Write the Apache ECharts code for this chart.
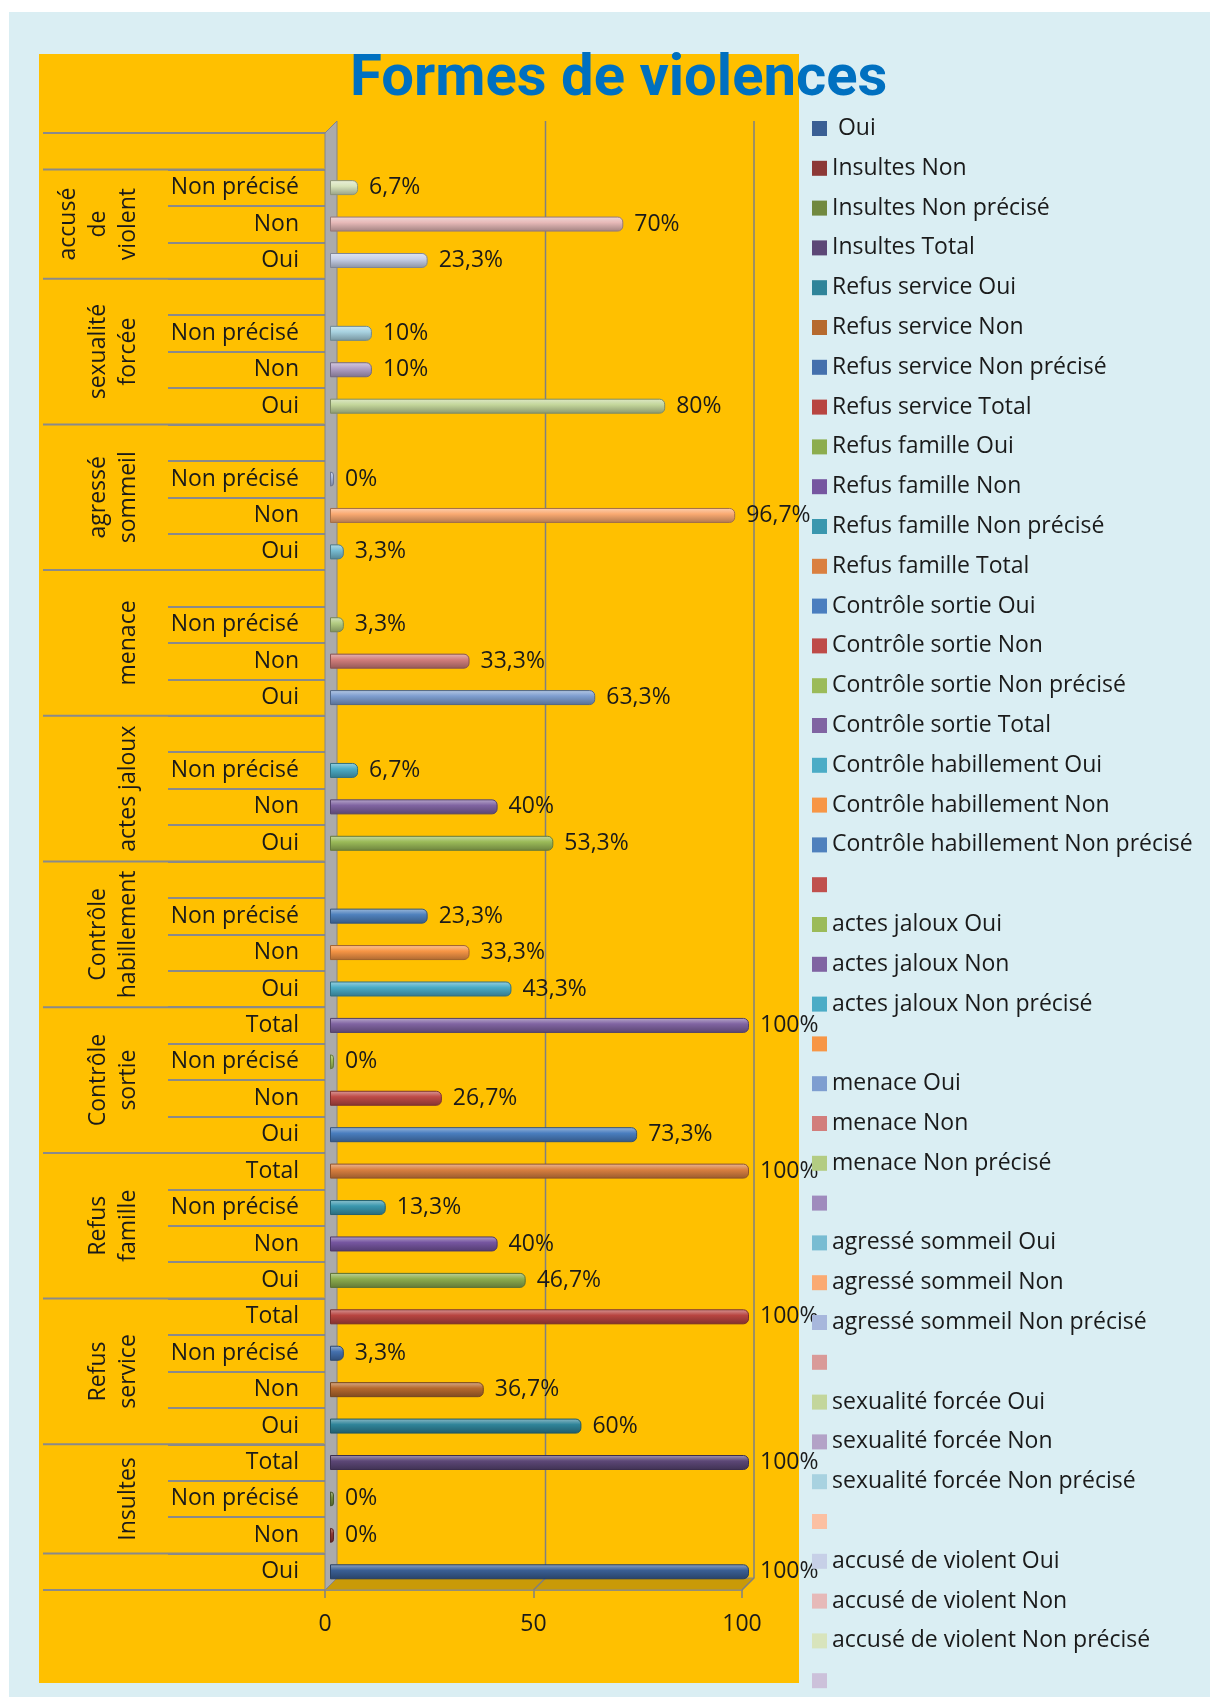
<!DOCTYPE html>
<html>
<head>
<meta charset="utf-8">
<title>Formes de violences</title>
<script src="https://cdn.jsdelivr.net/npm/echarts@6.0.0/dist/echarts.min.js"></script>
<style>
  html, body { margin: 0; padding: 0; background: #ffffff; }
  #page { position: relative; width: 1210px; height: 1697px; overflow: hidden; }
  #bgBlue { position: absolute; left: 9px; top: 12px; right: 0; bottom: 0; background: #DAEEF3; }
  #bgPlot { position: absolute; left: 39px; top: 54px; width: 760px; height: 1629px; background: #FFC000; }
  #chart { position: absolute; left: 0; top: 0; width: 1210px; height: 1697px; }
</style>
</head>
<body>
<div id="page">
  <div id="bgBlue"></div>
  <div id="bgPlot"></div>
  <div id="chart"></div>
</div>
<script>
// lignes de l'axe des catégories, de bas en haut
const subLabels = [
  'Oui',
  'Non', 'Non précisé', 'Total',
  'Oui', 'Non', 'Non précisé', 'Total',
  'Oui', 'Non', 'Non précisé', 'Total',
  'Oui', 'Non', 'Non précisé', 'Total',
  'Oui', 'Non', 'Non précisé', '',
  'Oui', 'Non', 'Non précisé', '',
  'Oui', 'Non', 'Non précisé', '',
  'Oui', 'Non', 'Non précisé', '',
  'Oui', 'Non', 'Non précisé', '',
  'Oui', 'Non', 'Non précisé',
  ''
];

// second niveau de l'axe (groupes), de bas en haut
const groupNames = ['', 'Insultes', 'Refus\nservice', 'Refus\nfamille', 'Contrôle\nsortie',
  'Contrôle\nhabillement', 'actes jaloux', 'menace', 'agressé\nsommeil', 'sexualité\nforcée',
  'accusé\nde\nviolent', ''];
const groupSizes = [1, 3, 4, 4, 4, 4, 4, 4, 4, 4, 3, 1];

// une série par ligne (comme dans le fichier Excel)
const seriesNames = [
  ' Oui', 'Insultes Non', 'Insultes Non précisé', 'Insultes Total',
  'Refus service Oui', 'Refus service Non', 'Refus service Non précisé', 'Refus service Total',
  'Refus famille Oui', 'Refus famille Non', 'Refus famille Non précisé', 'Refus famille Total',
  'Contrôle sortie Oui', 'Contrôle sortie Non', 'Contrôle sortie Non précisé', 'Contrôle sortie Total',
  'Contrôle habillement Oui', 'Contrôle habillement Non', 'Contrôle habillement Non précisé', ' ',
  'actes jaloux Oui', 'actes jaloux Non', 'actes jaloux Non précisé', '  ',
  'menace Oui', 'menace Non', 'menace Non précisé', '   ',
  'agressé sommeil Oui', 'agressé sommeil Non', 'agressé sommeil Non précisé', '    ',
  'sexualité forcée Oui', 'sexualité forcée Non', 'sexualité forcée Non précisé', '     ',
  'accusé de violent Oui', 'accusé de violent Non', 'accusé de violent Non précisé', '      '
];

// pourcentages
const values = [
  100, 0, 0, 100,
  60, 36.7, 3.3, 100,
  46.7, 40, 13.3, 100,
  73.3, 26.7, 0, 100,
  43.3, 33.3, 23.3, null,
  53.3, 40, 6.7, null,
  63.3, 33.3, 3.3, null,
  3.3, 96.7, 0, null,
  80, 10, 10, null,
  23.3, 70, 6.7, null
];

const colors = [
  '#3A5F94', '#8C3836', '#71893F', '#5C4776',
  '#2F8499', '#B66A2E', '#4470AD', '#B84541',
  '#8CAD4E', '#7656A0', '#3A97AE', '#DA8040',
  '#4A7EBF', '#BE4B48', '#9BBB59', '#8064A2',
  '#4BACC6', '#F79646', '#4F81BD', '#C0504D',
  '#9BBB59', '#8064A2', '#4BACC6', '#F79646',
  '#7E9ED0', '#D27E7C', '#B3CC82', '#9F8BBD',
  '#78BCD2', '#FAAA72', '#A7B7DC', '#D99A98',
  '#C3D69B', '#B3A2C7', '#A8D2E0', '#FBC0A2',
  '#C7D0E7', '#E6B9B8', '#D8E4BC', '#CCC1DA'
];

const valueTicks = [0, 50, 100];

const FONT = "'Open Sans', sans-serif";
const TXT = '#1a1a1a';
const LINE = '#8A8A8A';
const DX = 12, DY = -12; // profondeur 3D

function shade(hex, amt) {
  let r = parseInt(hex.slice(1, 3), 16), g = parseInt(hex.slice(3, 5), 16), b = parseInt(hex.slice(5, 7), 16);
  const t = amt < 0 ? 0 : 255, p = Math.abs(amt);
  r = Math.round(r + (t - r) * p); g = Math.round(g + (t - g) * p); b = Math.round(b + (t - b) * p);
  return 'rgb(' + r + ',' + g + ',' + b + ')';
}

// groupes : [0, début, fin]
let groupData = [];
let pos = 0;
groupSizes.forEach(function (n) {
  groupData.push([0, pos, pos + n - 1]);
  pos += n;
});

function renderGroup(params, api) {
  const start = api.value(1), end = api.value(2);
  const band = api.size([0, 1])[1];
  const pLow = api.coord([0, start]);
  const pHigh = api.coord([0, end]);
  const x0 = pLow[0];
  const yLow = pLow[1] + band / 2;
  const yHigh = pHigh[1] - band / 2;
  const children = [{
    type: 'line',
    shape: { x1: x0 - 287, y1: yLow, x2: x0 - 6, y2: yLow },
    style: { stroke: LINE, lineWidth: 2 }
  }];
  if (params.dataIndex === groupSizes.length - 1) {
    children.push({
      type: 'line',
      shape: { x1: x0 - 287, y1: yHigh, x2: x0 - 6, y2: yHigh },
      style: { stroke: LINE, lineWidth: 2 }
    });
  }
  const name = groupNames[params.dataIndex];
  if (name) {
    children.push({
      type: 'text',
      x: x0 - 187,
      y: (yLow + yHigh) / 2,
      rotation: Math.PI / 2,
      style: {
        text: name, fill: TXT, fontSize: 23, fontFamily: FONT,
        align: 'center', verticalAlign: 'bottom', lineHeight: 30
      }
    });
  }
  return { type: 'group', children: children };
}

function renderFrame(params, api) {
  const v = api.value(0);
  const b = api.coord([v, 0]);
  const t = api.coord([v, 1]);
  const children = [];
  if (params.dataIndex === 0) {
    const r = api.coord([valueTicks[valueTicks.length - 1], 0]);
    children.push({
      type: 'polygon',
      shape: { points: [[b[0], b[1]], [r[0], r[1]], [r[0] + DX, r[1] + DY], [b[0] + DX, b[1] + DY]] },
      style: { fill: '#C99A08', stroke: '#8C8C8C', lineWidth: 1 }
    });
    children.push({
      type: 'polygon',
      shape: { points: [[b[0], b[1]], [t[0], t[1]], [t[0] + DX, t[1] + DY], [b[0] + DX, b[1] + DY]] },
      style: { fill: '#ABABAB', stroke: '#858585', lineWidth: 1 }
    });
  } else {
    children.push({
      type: 'polyline',
      shape: { points: [[t[0] + DX, t[1] + DY], [b[0] + DX, b[1] + DY], [b[0], b[1]]] },
      style: { stroke: '#808080', lineWidth: 1.5, fill: null }
    });
  }
  return { type: 'group', children: children };
}

let series = seriesNames.map(function (name, i) {
  const c = colors[i];
  return {
    name: name,
    type: 'bar',
    stack: 'total',
    xAxisIndex: 0,
    yAxisIndex: 0,
    barWidth: 15,
    barMinHeight: 4,
    z: 3,
    data: values.map(function (v, j) { return j === i ? v : null; }),
    itemStyle: {
      color: new echarts.graphic.LinearGradient(0, 0, 0, 1, [
        { offset: 0, color: shade(c, 0.45) },
        { offset: 0.4, color: c },
        { offset: 1, color: shade(c, -0.3) }
      ]),
      borderColor: shade(c, -0.35),
      borderWidth: 1,
      borderRadius: [0, 5, 5, 0]
    },
    label: {
      show: true,
      position: 'right',
      distance: 11,
      fontSize: 23,
      fontFamily: FONT,
      color: TXT,
      formatter: function (p) { return String(p.value).replace('.', ',') + '%'; }
    },
    emphasis: { disabled: true }
  };
});

series.push({
  name: 'frame',
  type: 'custom',
  xAxisIndex: 1,
  yAxisIndex: 1,
  z: 1,
  clip: false,
  silent: true,
  encode: { x: 0 },
  data: valueTicks.map(function (v) { return [v]; }),
  renderItem: renderFrame
});

series.push({
  name: 'groups',
  type: 'custom',
  xAxisIndex: 0,
  yAxisIndex: 0,
  z: 2,
  clip: false,
  silent: true,
  encode: { x: 0, y: [1, 2] },
  data: groupData,
  renderItem: renderGroup
});

let option = {
  backgroundColor: 'transparent',
  animation: false,
  title: {
    text: 'Formes de violences',
    left: 345,
    top: 46,
    textStyle: { fontFamily: 'Roboto', fontWeight: 'bold', fontSize: 58, color: '#0070C0' }
  },
  legend: {
    orient: 'vertical',
    left: 812,
    top: 117,
    height: 1600,
    padding: 0,
    icon: 'rect',
    itemWidth: 15,
    itemHeight: 15,
    itemGap: 16.8,
    selectedMode: false,
    textStyle: { fontSize: 23, lineHeight: 23, color: TXT, fontFamily: FONT },
    data: seriesNames.map(function (n, i) {
      return { name: n, itemStyle: { color: colors[i], borderWidth: 0 } };
    })
  },
  grid: [
    { left: 330, right: 461, top: 133, bottom: 107, outerBoundsMode: 'none' },
    { left: 325, right: 468, top: 133, bottom: 107, outerBoundsMode: 'none' }
  ],
  xAxis: [
    { type: 'value', gridIndex: 0, min: 0, max: 100, show: false },
    {
      type: 'value', gridIndex: 1, min: 0, max: 100, interval: 50,
      axisLine: { show: true, lineStyle: { color: '#808080', width: 1.5 } },
      axisTick: { show: true, length: 8, lineStyle: { color: '#808080', width: 1.5 } },
      axisLabel: { fontSize: 23, fontFamily: FONT, color: TXT, margin: 23 },
      splitLine: { show: false }
    }
  ],
  yAxis: [
    {
      type: 'category', gridIndex: 0, data: subLabels,
      axisLine: { show: false },
      axisTick: { show: true, interval: 0, length: 162, lineStyle: { color: LINE, width: 2 } },
      axisLabel: { interval: 0, margin: 31, fontSize: 23, fontFamily: FONT, color: TXT },
      splitLine: { show: false }
    },
    { type: 'value', gridIndex: 1, min: 0, max: 1, show: false }
  ],
  series: series
};

let myChart = echarts.init(document.getElementById('chart'));
myChart.setOption(option);
</script>
</body>
</html>
